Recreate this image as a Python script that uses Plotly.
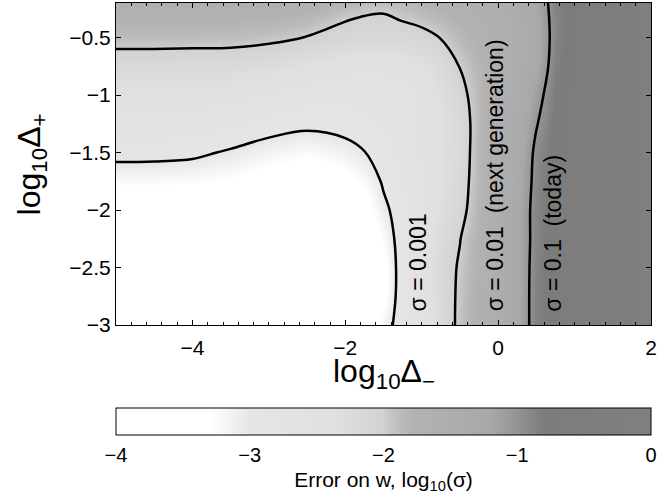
import plotly.graph_objects as go

# ---- data ----
x_vals = [-5, -4.5, -4, -3.5, -3, -2.5, -2, -1.75, -1.5, -1.25, -1, -0.75, -0.5, -0.25, 0, 0.25, 0.5, 0.75, 1, 1.5, 2]
y_vals = [-3, -2.75, -2.5, -2.25, -2, -1.75, -1.5, -1.25, -1, -0.75, -0.5, -0.35, -0.2]

# log10(sigma) on the (x, y) grid; one row per y value
z_row_m300 = [-3.9, -3.9, -3.9, -3.9, -3.9, -3.9, -3.88, -3.65, -3.17, -2.82, -2.55, -2.2, -1.93, -1.7, -1.5, -1.25, -0.85, -0.72, -0.62, -0.4, -0.25]
z_row_m275 = [-3.88, -3.88, -3.88, -3.88, -3.88, -3.88, -3.86, -3.65, -3.35, -2.8, -2.54, -2.19, -1.94, -1.7, -1.5, -1.25, -0.85, -0.72, -0.62, -0.4, -0.25]
z_row_m250 = [-3.85, -3.85, -3.85, -3.85, -3.85, -3.85, -3.83, -3.65, -3.38, -2.8, -2.5, -2.16, -1.965, -1.72, -1.52, -1.25, -0.86, -0.72, -0.62, -0.4, -0.25]
z_row_m225 = [-3.78, -3.78, -3.78, -3.78, -3.78, -3.78, -3.76, -3.6, -3.22, -2.83, -2.55, -2.22, -2.01, -1.75, -1.52, -1.25, -0.88, -0.72, -0.62, -0.4, -0.25]
z_row_m200 = [-3.62, -3.62, -3.62, -3.62, -3.62, -3.62, -3.6, -3.45, -3.07, -2.85, -2.58, -2.3, -2.11, -1.8, -1.55, -1.25, -0.88, -0.72, -0.62, -0.4, -0.25]
z_row_m175 = [-3.22, -3.22, -3.24, -3.3, -3.42, -3.5, -3.4, -3.22, -2.96, -2.75, -2.55, -2.35, -2.15, -1.83, -1.58, -1.3, -0.9, -0.72, -0.62, -0.4, -0.25]
z_row_m150 = [-2.89, -2.9, -2.93, -3.04, -3.15, -3.25, -3.12, -3.01, -2.85, -2.68, -2.5, -2.35, -2.2, -1.82, -1.55, -1.32, -0.93, -0.74, -0.63, -0.4, -0.25]
z_row_m125 = [-2.6, -2.6, -2.63, -2.72, -2.86, -2.92, -2.88, -2.82, -2.72, -2.62, -2.5, -2.35, -2.18, -1.85, -1.58, -1.38, -1.02, -0.76, -0.64, -0.4, -0.25]
z_row_m100 = [-2.38, -2.38, -2.4, -2.45, -2.55, -2.65, -2.68, -2.68, -2.65, -2.6, -2.5, -2.3, -2.1, -1.85, -1.62, -1.45, -1.12, -0.8, -0.66, -0.42, -0.25]
z_row_m075 = [-2.18, -2.18, -2.19, -2.2, -2.25, -2.35, -2.45, -2.48, -2.48, -2.43, -2.35, -2.2, -1.99, -1.8, -1.62, -1.5, -1.25, -0.85, -0.68, -0.42, -0.25]
z_row_m050 = [-1.88, -1.88, -1.885, -1.89, -1.93, -2.01, -2.12, -2.15, -2.16, -2.14, -2.1, -1.99, -1.85, -1.72, -1.6, -1.5, -1.28, -0.88, -0.7, -0.42, -0.25]
z_row_m035 = [-1.75, -1.75, -1.75, -1.76, -1.78, -1.84, -1.99, -2.04, -2.06, -1.99, -1.93, -1.85, -1.75, -1.68, -1.6, -1.5, -1.25, -0.88, -0.7, -0.42, -0.25]
z_row_m020 = [-1.6, -1.6, -1.6, -1.61, -1.63, -1.68, -1.8, -1.88, -1.9, -1.85, -1.78, -1.7, -1.63, -1.58, -1.52, -1.45, -1.22, -0.86, -0.7, -0.42, -0.25]

z_grid = [z_row_m300, z_row_m275, z_row_m250, z_row_m225, z_row_m200, z_row_m175,
          z_row_m150, z_row_m125, z_row_m100, z_row_m075, z_row_m050, z_row_m035, z_row_m020]

x_tick_vals = [-4, -2, 0, 2]
x_tick_text = ["\u22124", "\u22122", "0", "2"]
y_tick_vals = [-0.5, -1, -1.5, -2, -2.5, -3]
y_tick_text = ["\u22120.5", "\u22121", "\u22121.5", "\u22122", "\u22122.5", "\u22123"]
cb_tick_vals = [-4, -3, -2, -1, 0]
cb_tick_text = ["\u22124", "\u22123", "\u22122", "\u22121", "0"]

contour_levels = [-3, -1, 1]  # start, end, step
contour_labels = ["\u03c3 = 0.001", "\u03c3 = 0.01\u00a0\u00a0(next generation)", "\u03c3 = 0.1\u00a0\u00a0(today)"]
contour_label_x = [-1.05, -0.044, 0.713]
contour_label_y = [-2.9, -2.9, -2.9]

# ---- styling ----
FONT = "Liberation Sans, Arial, Helvetica, sans-serif"
grey_scale = [
    [0.0, "#ffffff"], [0.178, "#ffffff"], [0.25, "#e6e6e6"], [0.41, "#e0e0e0"],
    [0.5, "#d2d2d2"], [0.51, "#c8c8c8"], [0.535, "#bababa"], [0.56, "#b2b2b2"],
    [0.70, "#a8a8a8"], [0.75, "#949494"], [0.80, "#7c7c7c"], [1.0, "#808080"],
]

fig = go.Figure()
fig.add_trace(go.Heatmap(
    x=x_vals, y=y_vals, z=z_grid, zmin=-4, zmax=0, zsmooth="best",
    colorscale=grey_scale, hoverinfo="skip",
    colorbar=dict(
        orientation="h", x=0.5, xanchor="center", xref="paper",
        y=-0.2578, yanchor="top", yref="paper",
        len=1, lenmode="fraction", thickness=27, thicknessmode="pixels",
        outlinewidth=1, outlinecolor="black", xpad=0, ypad=0,
        tickmode="array", tickvals=cb_tick_vals, ticktext=cb_tick_text,
        ticks="outside", ticklen=3, tickcolor="rgba(0,0,0,0)",
        tickfont=dict(family=FONT, size=20, color="black"),
        title=dict(text="Error on w, log<sub>10</sub>(\u03c3)", side="bottom",
                   font=dict(family=FONT, size=21, color="black")),
    ),
))
fig.add_trace(go.Contour(
    x=x_vals, y=y_vals, z=z_grid,
    contours=dict(start=contour_levels[0], end=contour_levels[1], size=contour_levels[2],
                  coloring="none", showlabels=False),
    line=dict(color="black", width=2.5, smoothing=1.0),
    showscale=False, hoverinfo="skip",
))

for txt, lx, ly in zip(contour_labels, contour_label_x, contour_label_y):
    fig.add_annotation(x=lx, y=ly, xref="x", yref="y", text=txt, textangle=-90,
                       xanchor="center", yanchor="bottom", showarrow=False,
                       font=dict(family=FONT, size=23, color="black"))

# axis titles
fig.add_annotation(x=0.5, y=-0.152, xref="paper", yref="paper", showarrow=False,
                   xanchor="center", yanchor="middle",
                   text="log<sub>10</sub>\u0394<sub>\u2212</sub>",
                   font=dict(family=FONT, size=32, color="black"))
fig.add_annotation(x=-0.158, y=0.5, xref="paper", yref="paper", showarrow=False,
                   xanchor="center", yanchor="middle", textangle=-90,
                   text="log<sub>10</sub>\u0394<sub>+</sub>",
                   font=dict(family=FONT, size=32, color="black"))

axis_common = dict(showline=True, linecolor="black", linewidth=1, mirror="ticks",
                   ticks="inside", ticklen=5, tickcolor="black", showgrid=False,
                   zeroline=False, automargin=False,
                   tickfont=dict(family=FONT, size=21, color="black"))

fig.update_xaxes(range=[-5, 2], tickmode="array", tickvals=x_tick_vals, ticktext=x_tick_text,
                 ticklabelstandoff=4,
                 minor=dict(tickmode="linear", tick0=0, dtick=0.2, ticks="inside",
                            ticklen=3, tickcolor="black"),
                 **axis_common)
fig.update_yaxes(range=[-3, -0.2], tickmode="array", tickvals=y_tick_vals, ticktext=y_tick_text,
                 **axis_common)

fig.update_layout(
    width=659, height=501, margin=dict(l=116, r=8, t=3, b=176, autoexpand=False),
    paper_bgcolor="white", plot_bgcolor="white", showlegend=False,
    font=dict(family=FONT, color="black"),
)

fig.write_html("out.html", config={"displayModeBar": False},
               post_script="document.body.style.margin='0px';")
